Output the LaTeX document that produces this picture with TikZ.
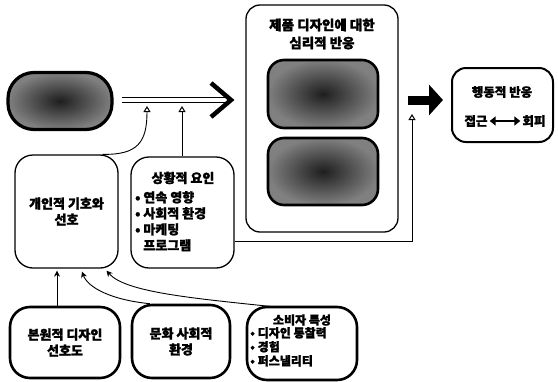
\documentclass[tikz,border=0pt]{standalone}
\usepackage{fontspec}
\newfontfamily\kr{Noto Sans CJK KR}[BoldFeatures={FakeBold=1.6}]
\usetikzlibrary{arrows.meta,calc}
\begin{document}
\begin{tikzpicture}[x=1pt,y=-1pt,
  txt/.style={font=\kr\bfseries\fontsize{13}{16}\selectfont, align=center, inner sep=0pt},
  box/.style={draw, rounded corners=16pt, line width=1.3pt, txt},
  thickbox/.style={box, line width=2.6pt, rounded corners=20pt},
  darkbox/.style={draw, line width=2.6pt, shade, inner color=black!88, outer color=black!50, rounded corners=16pt},
  link/.style={line width=0.9pt},
  opentip/.style={-{Triangle[open, length=6pt, width=7pt, line width=1pt]}},
  solidtip/.style={-{Stealth[length=6pt, width=6pt]}}]
\useasboundingbox (0,0) rectangle (558,381);

% source blob and main double-line arrow
\node[darkbox, rounded corners=26pt, line width=3.2pt, minimum width=104pt, minimum height=57pt] (design) at (60,101) {};
\coordinate (shaftL) at (122,100);
\coordinate (shaftR) at (226,100);
\draw[line width=1.2pt, double=white, double distance=4pt] (shaftL) -- (shaftR);
\coordinate (chevT) at (211,83);
\coordinate (chevB) at (211,117);
\coordinate (chevTip) at (231,100);
\draw[line width=4.5pt, line join=miter] (chevT) -- (chevTip) -- (chevB);
\coordinate (hitA) at (147,106);
\coordinate (hitB) at (182,106);

% psychological response frame
\node[box, rounded corners=14pt, line width=1.3pt, minimum width=152pt, minimum height=227pt] (psych) at (322,118.5) {};
\node[txt, font=\kr\bfseries\fontsize{13.5}{18}\selectfont] (psychT) at (322,34) {제품 디자인에 대한\\심리적 반응};
\node[darkbox, minimum width=110pt, minimum height=68pt] (cog) at (323,94) {};
\node[darkbox, minimum width=110pt, minimum height=67pt] (emo) at (323,171.5) {};

% behavioural response
\node[box, rounded corners=14pt, line width=2pt, minimum width=101pt, minimum height=74pt] (behav) at (502.5,105) {};
\node[txt, font=\kr\bfseries\fontsize{12.5}{15}\selectfont] (behavT) at (502,92) {행동적 반응};
\node[txt, font=\kr\bfseries\fontsize{12.5}{15}\selectfont] (appr) at (476,121) {접근};
\node[txt, font=\kr\bfseries\fontsize{12.5}{15}\selectfont] (avoid) at (534,121) {회피};
\draw[line width=2.4pt, {Triangle[length=6pt,width=9pt]}-{Triangle[length=6pt,width=9pt]}] (appr.east) ++(2,0) -- ($(avoid.west)+(-2,0)$);
\draw[line width=9pt, -{Triangle[length=14pt, width=30pt]}] (psych.east |- 0,100) ++(9,0) -- ($(behav.west |- 0,100)+(-8,0)$);

% personal preference and situational factors
\node[box, rounded corners=18pt, minimum width=103pt, minimum height=113pt] (indiv) at (66.5,211.5) {개인적 기호와\\선호};
\node[box, rounded corners=18pt, minimum width=103pt, minimum height=111pt] (sit) at (182.5,212.5) {};
\node[txt] (sitT) at (183,178) {상황적 요인};
\node[txt, anchor=north west, align=left] (sitL) at (135,191) {• 연속 영향\\• 사회적 환경\\• 마케팅\\\phantom{• }프로그램};

% bottom influences
\node[thickbox, minimum width=110pt, minimum height=71pt] (origin) at (65,342.5) {본원적 디자인\\선호도};
\node[thickbox, minimum width=98pt, minimum height=73pt] (culture) at (181,341.5) {문화 사회적\\환경};
\node[thickbox, minimum width=110pt, minimum height=73pt] (consumer) at (302,343.5) {};
\node[txt, font=\kr\bfseries\fontsize{12}{14}\selectfont] (consT) at (302,320) {소비자 특성};
\node[txt, font=\kr\bfseries\fontsize{12}{14}\selectfont, anchor=north west, align=left] (consL) at (250,327) {• 디자인 통찰력\\• 경험\\• 퍼스낼리티};

% connectors
\draw[link, opentip] ($(indiv.north)+(36,0)$) .. controls (138,155) and (147,142) .. (hitA);
\draw[link, opentip] (sit.north -| hitB) -- (hitB);
\coordinate (sitOut) at (sit.east |- 0,241);
\coordinate (riseUp) at (412,114);
\draw[link, opentip] (sitOut) -- (412,241) -- (riseUp);
\draw[link, solidtip] ($(origin.north)+(-8,0)$) -- ($(indiv.south)+(-9.5,2)$);
\draw[link, solidtip] ($(culture.north)+(-31,0)$) .. controls (112,300) and (88,288) .. ($(indiv.south)+(15.5,3)$);
\draw[link, solidtip] ($(consumer.north)+(-29,1)$) .. controls (190,298) and (125,292) .. ($(indiv.south)+(40,2)$);
\end{tikzpicture}
\end{document}
